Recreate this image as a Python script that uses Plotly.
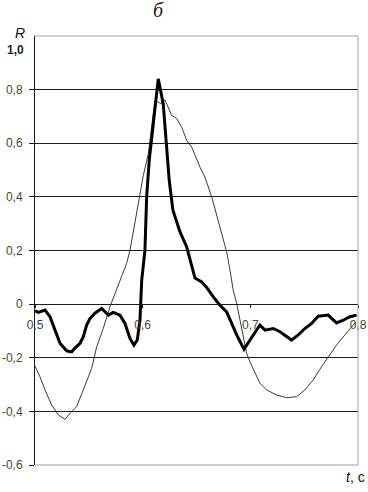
import plotly.graph_objects as go

# Thick curve (bold)
t_bold = [0.5000, 0.5031, 0.5093, 0.5139, 0.5186, 0.5232, 0.5294, 0.5341, 0.5371, 0.5418,
          0.5448, 0.5480, 0.5511, 0.5557, 0.5619, 0.5681, 0.5727, 0.5789, 0.5836, 0.5882,
          0.5919, 0.5950, 0.5975, 0.5991, 0.6021, 0.6037, 0.6061, 0.6098, 0.6145, 0.6191,
          0.6223, 0.6247, 0.6281, 0.6346, 0.6409, 0.6455, 0.6486, 0.6548, 0.6594, 0.6656,
          0.6718, 0.6780, 0.6826, 0.6873, 0.6941, 0.6996, 0.7043, 0.7089, 0.7136, 0.7213,
          0.7275, 0.7337, 0.7384, 0.7445, 0.7507, 0.7569, 0.7630, 0.7723, 0.7801, 0.7863,
          0.7925, 0.7987]
r_bold = [-0.025, -0.031, -0.022, -0.047, -0.097, -0.146, -0.174, -0.178, -0.164, -0.146,
          -0.122, -0.078, -0.053, -0.034, -0.016, -0.041, -0.031, -0.041, -0.072, -0.128,
          -0.153, -0.134, -0.060, 0.089, 0.200, 0.400, 0.536, 0.660, 0.840, 0.747,
          0.600, 0.460, 0.350, 0.270, 0.213, 0.139, 0.097, 0.083, 0.062, 0.027,
          -0.004, -0.029, -0.072, -0.115, -0.168, -0.134, -0.109, -0.078, -0.097, -0.091,
          -0.103, -0.122, -0.134, -0.115, -0.091, -0.072, -0.045, -0.041, -0.070, -0.060,
          -0.047, -0.041]

# Thin curve
t_thin = [0.5000, 0.5046, 0.5093, 0.5155, 0.5216, 0.5279, 0.5325, 0.5387, 0.5448, 0.5526,
          0.5573, 0.5634, 0.5696, 0.5743, 0.5796, 0.5851, 0.5882, 0.5944, 0.6006, 0.6052,
          0.6084, 0.6114, 0.6145, 0.6176, 0.6207, 0.6238, 0.6269, 0.6316, 0.6362, 0.6409,
          0.6455, 0.6532, 0.6578, 0.6641, 0.6687, 0.6734, 0.6780, 0.6811, 0.6841, 0.6873,
          0.6919, 0.6966, 0.7003, 0.7043, 0.7089, 0.7151, 0.7244, 0.7337, 0.7430, 0.7507,
          0.7584, 0.7662, 0.7723, 0.7801, 0.7878, 0.7941, 0.7981]
r_thin = [-0.231, -0.271, -0.320, -0.376, -0.413, -0.430, -0.407, -0.382, -0.320, -0.240,
          -0.159, -0.091, -0.010, 0.040, 0.089, 0.152, 0.200, 0.345, 0.480, 0.560,
          0.660, 0.760, 0.753, 0.747, 0.762, 0.735, 0.704, 0.692, 0.660, 0.611,
          0.586, 0.511, 0.474, 0.400, 0.331, 0.269, 0.195, 0.127, 0.052, 0.003,
          -0.097, -0.184, -0.221, -0.258, -0.295, -0.320, -0.339, -0.349, -0.345, -0.320,
          -0.283, -0.233, -0.196, -0.153, -0.115, -0.084, -0.066]

y_tickvals = [-0.6, -0.4, -0.2, 0.0, 0.2, 0.4, 0.6, 0.8]
y_ticktext = ["-0,6", "-0,4", "-0,2", "0", "0,2", "0,4", "0,6", "0,8"]
x_tickvals = [0.5, 0.6, 0.7, 0.8]
x_ticktext = ["0,5", "0,6", "0,7", "0,8"]

fig = go.Figure()
fig.add_trace(go.Scatter(x=t_thin, y=r_thin, mode="lines",
                         line=dict(color="#3a3a3a", width=1), showlegend=False))
fig.add_trace(go.Scatter(x=t_bold, y=r_bold, mode="lines",
                         line=dict(color="#000000", width=3), showlegend=False))

fig.update_layout(
    width=368, height=492,
    margin=dict(l=35, r=10, t=36, b=27, autoexpand=False),
    paper_bgcolor="white", plot_bgcolor="white",
    font=dict(family="Liberation Sans, Arial, sans-serif", size=12, color="#444"),
)
fig.update_yaxes(range=[-0.6, 1.0], tickvals=y_tickvals, ticktext=y_ticktext,
                 showgrid=True, gridcolor="#1a1a1a", gridwidth=1, zeroline=False,
                 showline=True, linecolor="#1a1a1a", linewidth=1,
                 ticks="outside", ticklen=5, tickcolor="#1a1a1a",
                 ticklabelstandoff=4, fixedrange=True, automargin=False)
fig.update_xaxes(range=[0.5, 0.8], tickvals=x_tickvals, ticktext=x_ticktext,
                 anchor="free", position=0.375, showgrid=False, zeroline=False,
                 showline=True, linecolor="#1a1a1a", linewidth=1,
                 ticks="outside", ticklen=3, tickcolor="#1a1a1a",
                 ticklabelstandoff=6, fixedrange=True, automargin=False)

# Grey frame: top, bottom, right
for shp in [dict(x0=0, x1=1, y0=1, y1=1), dict(x0=0, x1=1, y0=0, y1=0), dict(x0=1, x1=1, y0=0, y1=1)]:
    fig.add_shape(type="line", xref="paper", yref="paper", line=dict(color="#a0a0a0", width=1),
                  layer="above", **shp)

fig.add_annotation(text="<i>б</i>", xref="paper", yref="paper", x=(158 - 35) / 323, y=(465 - 10) / 429,
                   showarrow=False, xanchor="center", yanchor="middle",
                   font=dict(family="Liberation Serif, Times New Roman, serif", size=20, color="#222"))
fig.add_annotation(text="<i>R</i>", xref="paper", yref="paper", x=(20 - 35) / 323, y=(465 - 33) / 429,
                   showarrow=False, xanchor="center", yanchor="middle",
                   font=dict(size=14, color="#111"))
fig.add_annotation(text="<b>1,0</b>", xref="paper", yref="paper", x=(26 - 35) / 323, y=(465 - 50) / 429,
                   showarrow=False, xanchor="right", yanchor="middle",
                   font=dict(size=12, color="#222"))
fig.add_annotation(text="<i>t</i>, с", xref="paper", yref="paper", x=(367 - 35) / 323, y=(465 - 477) / 429,
                   showarrow=False, xanchor="right", yanchor="middle",
                   font=dict(size=14, color="#111"))

fig.write_html("out.html", config={"displayModeBar": False},
               post_script="document.body.style.margin='0';document.body.style.overflow='hidden';")
